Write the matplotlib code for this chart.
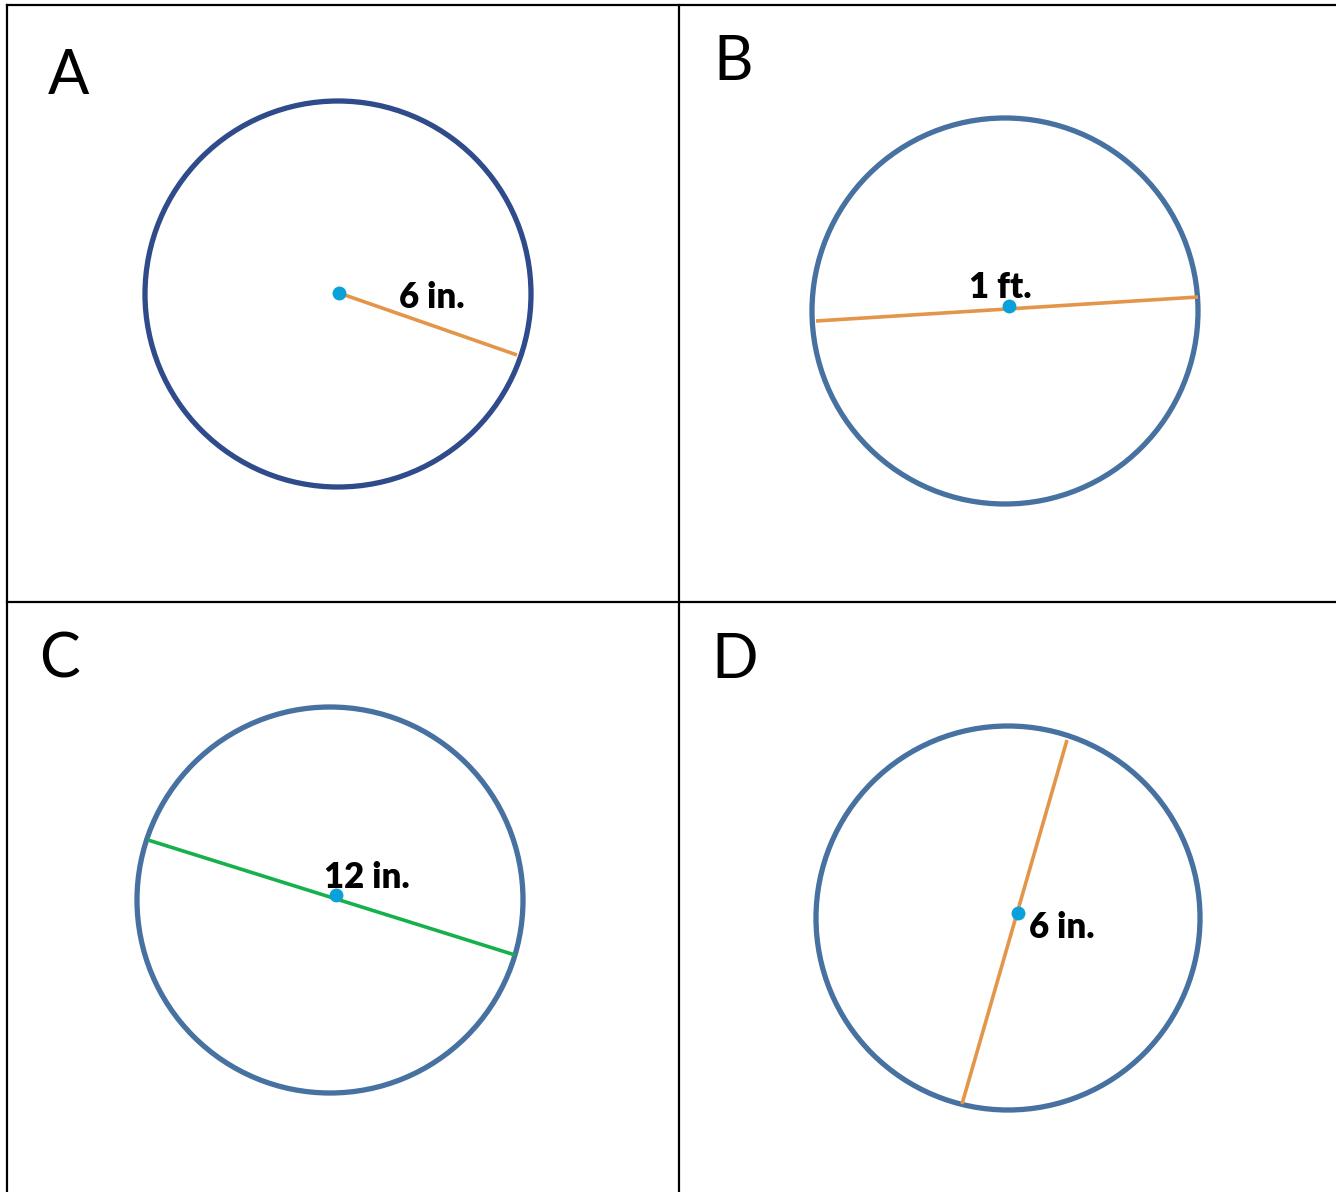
import matplotlib
matplotlib.use("Agg")
import matplotlib.pyplot as plt
from matplotlib.patches import Circle

W, H = 1336, 1192

# panel letters and where they sit (pixel coords, y down)
letters = ["A", "B", "C", "D"]
letter_x = [69, 733, 60, 735]
letter_y = [76, 62, 660, 660]

# circles
cx = [338, 1005, 330, 1008]
cy = [294, 311, 900, 918]
radius = [193, 193, 193, 192]
ring_colors = ["#2F4B8B", "#4671A0", "#4671A0", "#4671A0"]

# segments (radius / diameters)
seg_x0 = [339, 816, 148, 1067]
seg_y0 = [293, 321, 840, 740]
seg_x1 = [517, 1198, 515, 962]
seg_y1 = [355, 297, 955, 1104]
seg_colors = ["#E3954A", "#E3954A", "#16B14A", "#E3954A"]

# center dots
dot_x = [339, 1009, 336, 1018]
dot_y = [293, 306, 895, 913]

# measurement labels
labels = ["6 in.", "1 ft.", "12 in.", "6 in."]
lab_x = [432, 1000, 367, 1062]
lab_y = [298, 287, 877, 927]

fig = plt.figure(figsize=(W / 100, H / 100), dpi=100)
ax = fig.add_axes([0, 0, 1, 1])
ax.set_xlim(0, W)
ax.set_ylim(H, 0)
ax.set_aspect("equal")
ax.axis("off")

# table grid
lw_grid = 1.6
ax.plot([7, W], [5, 5], color="black", lw=lw_grid)
ax.plot([7, 7], [5, H], color="black", lw=lw_grid)
ax.plot([679, 679], [5, H], color="black", lw=lw_grid)
ax.plot([7, W], [602, 602], color="black", lw=lw_grid)

for i in range(4):
    ax.text(letter_x[i], letter_y[i], letters[i], fontsize=44, family="Lato",
            ha="center", va="center", color="black")
    ax.add_patch(Circle((cx[i], cy[i]), radius[i], fill=False,
                        edgecolor=ring_colors[i], lw=3.8))
    ax.plot([seg_x0[i], seg_x1[i]], [seg_y0[i], seg_y1[i]],
            color=seg_colors[i], lw=2.6, solid_capstyle="butt")
    ax.plot(dot_x[i], dot_y[i], "o", color="#0AA0DA", ms=10, mew=0)
    ax.text(lab_x[i], lab_y[i], labels[i], fontsize=25, family="Lato",
            fontweight="heavy", ha="center", va="center", color="black")

fig.savefig("out.png", dpi=100, facecolor="white")
